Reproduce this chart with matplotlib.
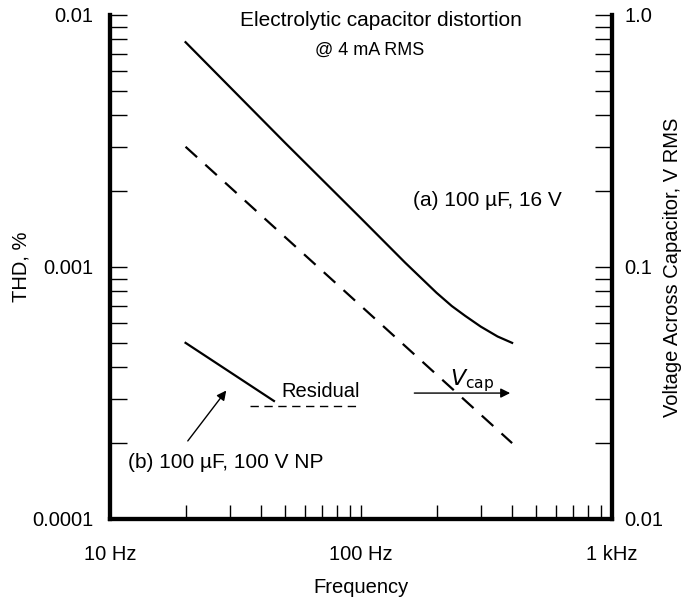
import numpy as np
import matplotlib
matplotlib.use('Agg')
import matplotlib.pyplot as plt
from matplotlib.ticker import FixedLocator, NullFormatter

plt.rcParams['font.family'] = ['Liberation Sans', 'DejaVu Sans']

# curve (a) 100 uF, 16 V - THD %
freq_a = [20, 50, 100, 150, 200, 230, 260, 300, 350, 400]
thd_a = [0.0078, 0.0031, 0.00156, 0.00104, 0.00079, 0.00070, 0.00064, 0.00058, 0.00053, 0.0005]

# curve (b) 100 uF, 100 V NP
freq_b = [20, 45]
thd_b = [0.0005, 0.000294]

# analyser residual
freq_res = [36, 100]
thd_res = [0.00028, 0.00028]

# voltage across capacitor (right axis)
freq_v = [20, 400]
vcap = [0.3, 0.02]

fig = plt.figure(figsize=(6.91, 6.01), dpi=100)
ax = fig.add_axes([110/691, 1-519/601, 502/691, 504/601])

ax.plot(freq_a, thd_a, c='black', lw=1.6)
ax.plot(freq_b, thd_b, c='black', lw=1.6)
ax.plot(freq_res, thd_res, c='black', lw=1.0, dashes=(6, 4))

ax.set_xscale('log')
ax.set_yscale('log')
ax.set_xlim(10, 1000)
ax.set_ylim(0.0001, 0.01)

ax2 = ax.twinx()
ax2.plot(freq_v, vcap, c='black', lw=1.6, dashes=(7, 5))
ax2.set_yscale('log')
ax2.set_ylim(0.01, 1.0)

# axes styling
for a in (ax, ax2):
    a.spines['top'].set_visible(False)
    for s in ('left', 'right', 'bottom'):
        a.spines[s].set_linewidth(3)

fs = 14.5

ax.xaxis.set_major_locator(FixedLocator([10, 100, 1000]))
ax.set_xticklabels(['10 Hz', '100 Hz', '1 kHz'])
ax.xaxis.set_minor_locator(FixedLocator([m * d for d in (10, 100) for m in range(2, 10)]))
ax.xaxis.set_minor_formatter(NullFormatter())
ax.tick_params(axis='x', which='both', direction='in', length=10, width=1, pad=19, labelsize=fs)

ax.yaxis.set_major_locator(FixedLocator([0.0001, 0.001, 0.01]))
ax.set_yticklabels(['0.0001', '0.001', '0.01'])
ax.yaxis.set_minor_locator(FixedLocator([m * d for d in (0.0001, 0.001) for m in range(2, 10)]))
ax.yaxis.set_minor_formatter(NullFormatter())
ax.tick_params(axis='y', which='both', direction='in', length=12, width=1, pad=12, labelsize=fs)

ax2.yaxis.set_major_locator(FixedLocator([0.01, 0.1, 1.0]))
ax2.set_yticklabels(['0.01', '0.1', '1.0'])
ax2.yaxis.set_minor_locator(FixedLocator([m * d for d in (0.01, 0.1) for m in range(2, 10)]))
ax2.yaxis.set_minor_formatter(NullFormatter())
ax2.tick_params(axis='y', which='both', direction='in', length=12, width=1, pad=9, labelsize=fs)

ax.set_xlabel('Frequency', fontsize=fs, labelpad=10)
ax.set_ylabel('THD, %', fontsize=fs, labelpad=1)
ax2.set_ylabel('Voltage Across Capacitor, V RMS', fontsize=fs, labelpad=0)

# annotations
ax.text(161, 0.00183, '(a) 100 µF, 16 V', fontsize=15, va='center', ha='left')
ax.text(69, 0.000322, 'Residual', fontsize=fs, va='center', ha='center')
ax.text(11.8, 0.000167, '(b) 100 µF, 100 V NP', fontsize=15, va='center', ha='left')
ax.annotate('', xy=(29.5, 0.00033), xytext=(20.1, 0.0002),
            arrowprops=dict(arrowstyle='-|>', color='black', lw=1, mutation_scale=14))
ax.annotate('', xy=(403, 0.000316), xytext=(159, 0.000316),
            arrowprops=dict(arrowstyle='-|>', color='black', lw=1, mutation_scale=14))
ax.text(277, 0.000355, r'$V$' + '$_{\\mathrm{cap}}$', fontsize=16, va='center', ha='center')

fig.text(381/691, 1-20/601, 'Electrolytic capacitor distortion', fontsize=15, ha='center', va='center')
fig.text(370/691, 1-50/601, '@ 4 mA RMS', fontsize=13, ha='center', va='center')

fig.savefig('out.png', dpi=100)
